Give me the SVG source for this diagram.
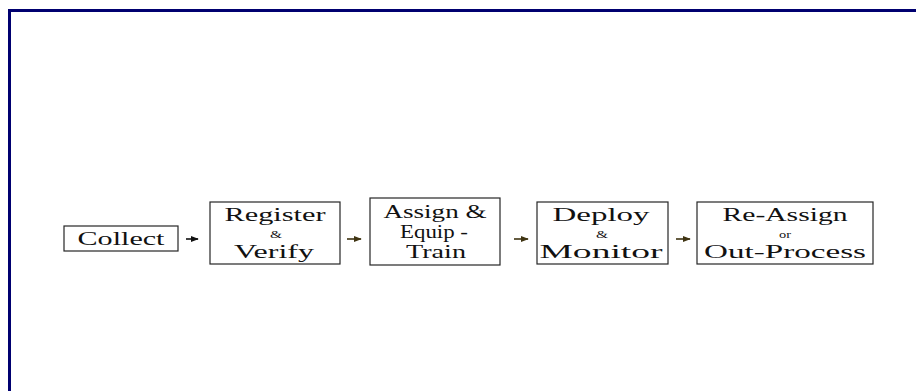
<svg xmlns="http://www.w3.org/2000/svg" width="916" height="391" viewBox="0 0 916 391">
  <style>
    .box { fill: #ffffff; stroke: #262626; stroke-width: 1.2; }
    .lbl { font-family: "Liberation Serif", "Times New Roman", serif; font-size: 18.5px; fill: #111111; text-anchor: middle; }
    .sm { font-family: "Liberation Serif", "Times New Roman", serif; font-size: 11px; fill: #111111; text-anchor: middle; }
    .frame { fill: none; stroke: #000070; stroke-width: 3; }
    .link { stroke-width: 1.6; fill: none; }
  </style>
  <defs>
    <marker id="headDark" viewBox="0 0 10 10" refX="9" refY="5" markerWidth="5" markerHeight="5" orient="auto">
      <path d="M0,1 L10,5 L0,9 z" fill="#111111"/>
    </marker>
    <marker id="headBrown" viewBox="0 0 10 10" refX="9" refY="5" markerWidth="5" markerHeight="5" orient="auto">
      <path d="M0,1 L10,5 L0,9 z" fill="#3f3412"/>
    </marker>
  </defs>

  <rect width="916" height="391" fill="#ffffff"/>
  <!-- outer frame: top and left edges visible -->
  <path class="frame" d="M9.5,391 L9.5,10.5 L916,10.5"/>

  <g id="connectors">
    <path class="link" d="M186,239 L198,239" stroke="#111111" marker-end="url(#headDark)"/>
    <path class="link" d="M347,239 L361,239" stroke="#3f3412" marker-end="url(#headBrown)"/>
    <path class="link" d="M514,239 L528,239" stroke="#3f3412" marker-end="url(#headBrown)"/>
    <path class="link" d="M676,239 L690,239" stroke="#3f3412" marker-end="url(#headBrown)"/>
  </g>

  <g id="collect">
    <rect class="box" x="64" y="226" width="114" height="25"/>
    <text class="lbl" x="121" y="245" textLength="87" lengthAdjust="spacingAndGlyphs">Collect</text>
  </g>

  <g id="register-verify">
    <rect class="box" x="210" y="202" width="130" height="62"/>
    <text class="lbl" x="275" y="221" textLength="101" lengthAdjust="spacingAndGlyphs">Register</text>
    <text class="sm" x="276" y="238" textLength="12" lengthAdjust="spacingAndGlyphs">&amp;</text>
    <text class="lbl" x="274" y="258" textLength="80" lengthAdjust="spacingAndGlyphs">Verify</text>
  </g>

  <g id="assign-equip-train">
    <rect class="box" x="370" y="198" width="130" height="67"/>
    <text class="lbl" x="435" y="218" textLength="103" lengthAdjust="spacingAndGlyphs">Assign &amp;</text>
    <text class="lbl" x="434" y="238" textLength="68" lengthAdjust="spacingAndGlyphs">Equip -</text>
    <text class="lbl" x="436" y="258" textLength="60" lengthAdjust="spacingAndGlyphs">Train</text>
  </g>

  <g id="deploy-monitor">
    <rect class="box" x="537" y="202" width="131" height="62"/>
    <text class="lbl" x="601" y="221" textLength="97" lengthAdjust="spacingAndGlyphs">Deploy</text>
    <text class="sm" x="602" y="238" textLength="12" lengthAdjust="spacingAndGlyphs">&amp;</text>
    <text class="lbl" x="601" y="258" textLength="123" lengthAdjust="spacingAndGlyphs">Monitor</text>
  </g>

  <g id="reassign-outprocess">
    <rect class="box" x="697" y="202" width="176" height="62"/>
    <text class="lbl" x="785" y="221" textLength="125" lengthAdjust="spacingAndGlyphs">Re-Assign</text>
    <text class="sm" x="785" y="238" textLength="12" lengthAdjust="spacingAndGlyphs">or</text>
    <text class="lbl" x="785" y="258" textLength="162" lengthAdjust="spacingAndGlyphs">Out-Process</text>
  </g>
</svg>
